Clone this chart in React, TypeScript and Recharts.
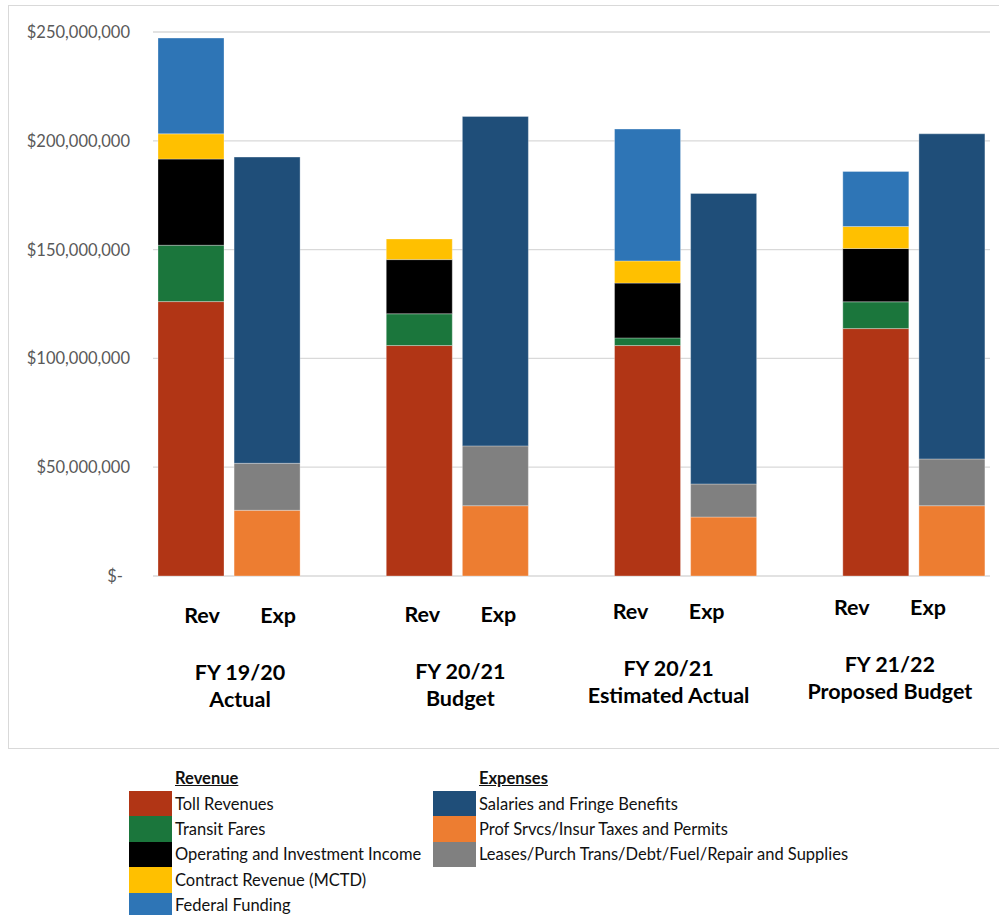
import React from "react";
import { BarChart, Bar, XAxis, YAxis, CartesianGrid } from "recharts";

const FONT = "Lato, 'Open Sans', sans-serif";

const FISCAL_YEARS = ["FY 19/20", "FY 20/21", "FY 20/21", "FY 21/22"];
const YEAR_NOTES = ["Actual", "Budget", "Estimated Actual", "Proposed Budget"];

// revenue, $ millions
const TOLL = [126.1, 105.9, 105.9, 113.7];
const TRANSIT = [25.9, 14.6, 3.5, 12.3];
const OPERATING = [39.6, 24.9, 25.2, 24.5];
const CONTRACT = [11.6, 9.5, 10.2, 10.1];
const FEDERAL = [44.0, 0, 60.6, 25.3];

// expenses, $ millions
const SALARIES = [140.7, 151.4, 133.5, 149.4];
const PROF = [30.2, 32.3, 27.1, 32.3];
const LEASES = [21.6, 27.5, 15.2, 21.5];

const Y_TICKS = [0, 50, 100, 150, 200, 250];

const REVENUE_SERIES = [
  { key: "toll", name: "Toll Revenues", color: "#B13515", values: TOLL },
  { key: "transit", name: "Transit Fares", color: "#1B763C", values: TRANSIT },
  { key: "operating", name: "Operating and Investment Income", color: "#000000", values: OPERATING },
  { key: "contract", name: "Contract Revenue (MCTD)", color: "#FFC000", values: CONTRACT },
  { key: "federal", name: "Federal Funding", color: "#2E75B6", values: FEDERAL },
];

// legend order differs from stacking order (prof sits at the bottom)
const EXPENSE_SERIES = [
  { key: "salaries", name: "Salaries and Fringe Benefits", color: "#1F4E79", values: SALARIES },
  { key: "prof", name: "Prof Srvcs/Insur Taxes and Permits", color: "#ED7D31", values: PROF },
  { key: "leases", name: "Leases/Purch Trans/Debt/Fuel/Repair and Supplies", color: "#808080", values: LEASES },
];
const EXPENSE_STACK = ["prof", "leases", "salaries"].map(
  (k) => EXPENSE_SERIES.find((s) => s.key === k)!
);

// hand-placed label nudges per fiscal year group
const LABEL_DX = [11, 3, -17, -24];
const LABEL_DY = [0, -1, -4, -8];
const HALF_BAND = 38;

type Row = { [k: string]: any };

const rows: Row[] = [];
FISCAL_YEARS.forEach((_, i) => {
  const rev: Row = { id: `r${i}`, slot: "Rev", year: i };
  const exp: Row = { id: `e${i}`, slot: "Exp", year: i };
  [...REVENUE_SERIES, ...EXPENSE_SERIES].forEach((s) => {
    const isRev = REVENUE_SERIES.includes(s);
    rev[s.key] = isRev ? s.values[i] : 0;
    exp[s.key] = isRev ? 0 : s.values[i];
  });
  rows.push(rev, exp);
  if (i < FISCAL_YEARS.length - 1) rows.push({ id: `g${i}`, slot: "", year: i });
});

const money = (v: number) =>
  v === 0 ? "$-" : "$" + (v * 1000000).toLocaleString("en-US");

function YTick(props: any) {
  const { x, y, payload } = props;
  const zero = payload.value === 0;
  return (
    <text
      x={zero ? x - 7 : x}
      y={y}
      dy="0.36em"
      textAnchor="end"
      fill="#595959"
      fontSize={16.5}
      fontFamily={FONT}
    >
      {money(payload.value)}
    </text>
  );
}

function SlotTick(props: any) {
  const { x, y, payload } = props;
  const row = rows[payload.index];
  if (!row || !row.slot) return null;
  const g = row.year;
  const dx = LABEL_DX[g];
  const dy = LABEL_DY[g];
  const style = { fontFamily: FONT, fontWeight: 700, fill: "#000" };
  return (
    <g>
      <text x={x + dx} y={y + 47 + dy} textAnchor="middle" fontSize={21.5} {...style}>
        {row.slot}
      </text>
      {row.slot === "Rev" && (
        <>
          <text x={x + HALF_BAND + dx} y={y + 104 + dy} textAnchor="middle" fontSize={21.5} {...style}>
            {FISCAL_YEARS[g]}
          </text>
          <text x={x + HALF_BAND + dx} y={y + 131 + dy} textAnchor="middle" fontSize={21.5} {...style}>
            {YEAR_NOTES[g]}
          </text>
        </>
      )}
    </g>
  );
}

function LegendColumn({ title, series, left }: { title: string; series: typeof REVENUE_SERIES; left: number }) {
  return (
    <div style={{ position: "absolute", left, top: 766 }}>
      <div
        style={{
          marginLeft: 46,
          height: 25,
          lineHeight: "25px",
          fontWeight: 700,
          textDecoration: "underline",
          fontSize: 16.5,
        }}
      >
        {title}
      </div>
      {series.map((s) => (
        <div key={s.key} style={{ display: "flex", alignItems: "center", height: 25.4 }}>
          <div style={{ width: 43, height: 25.4, background: s.color }} />
          <span style={{ marginLeft: 3, fontSize: 16.5, whiteSpace: "nowrap" }}>{s.name}</span>
        </div>
      ))}
    </div>
  );
}

export default function App() {
  return (
    <div
      style={{
        position: "fixed",
        left: 0,
        top: 0,
        width: 999,
        height: 915,
        overflow: "hidden",
        background: "#fff",
        fontFamily: FONT,
        color: "#111",
      }}
    >
      <div
        style={{
          position: "absolute",
          left: 8,
          top: 5,
          width: 1010,
          height: 742,
          border: "1.5px solid #d9d9d9",
        }}
      />
      <div style={{ position: "absolute", left: 0, top: 0 }}>
        <BarChart
          width={1000}
          height={760}
          data={rows}
          margin={{ top: 32, right: 10, left: 0, bottom: 0 }}
          barSize={66}
        >
          <CartesianGrid vertical={false} stroke="#d9d9d9" strokeWidth={1.3} />
          <XAxis
            dataKey="id"
            height={184}
            interval={0}
            axisLine={false}
            tickLine={false}
            tickSize={0}
            tickMargin={0}
            tick={<SlotTick />}
          />
          <YAxis
            width={153}
            domain={[0, 250]}
            ticks={Y_TICKS}
            axisLine={false}
            tickLine={false}
            tickSize={0}
            tickMargin={23}
            tick={<YTick />}
          />
          {[...REVENUE_SERIES, ...EXPENSE_STACK].map((s) => (
            <Bar
              key={s.key}
              dataKey={s.key}
              name={s.name}
              stackId="total"
              fill={s.color}
              stroke="#ffffff"
              strokeOpacity={0.3}
              strokeWidth={1}
              isAnimationActive={false}
            />
          ))}
        </BarChart>
      </div>
      <LegendColumn title="Revenue" series={REVENUE_SERIES} left={129} />
      <LegendColumn title="Expenses" series={EXPENSE_SERIES} left={433} />
    </div>
  );
}
